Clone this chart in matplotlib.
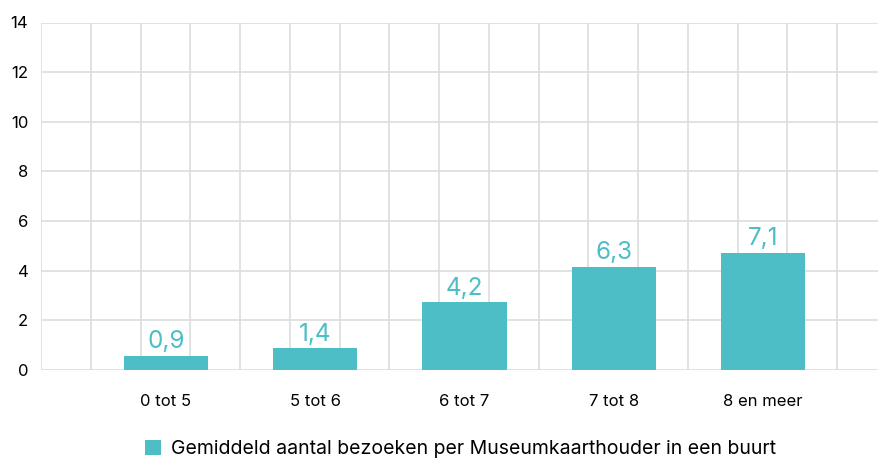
import matplotlib
matplotlib.use("Agg")
import matplotlib.pyplot as plt
import numpy as np

categories = ["0 tot 5", "5 tot 6", "6 tot 7", "7 tot 8", "8 en meer"]
bar_heights = [0.56, 0.88, 2.73, 4.15, 4.72]
value_labels = ["0,9", "1,4", "4,2", "6,3", "7,1"]
legend_label = "Gemiddeld aantal bezoeken per Museumkaarthouder in een buurt"
y_ticks = [0, 2, 4, 6, 8, 10, 12, 14]

teal = "#4DBDC6"
grid_c = "#DDDDDD"
plt.rcParams['font.family'] = ['Inter', 'DejaVu Sans']

fig = plt.figure(figsize=(8.79, 4.59), dpi=100)
ax = fig.add_axes([41/879, 89/459, 1 - 41/879, (370-22.5)/459])

x = np.arange(len(categories))
xmin, xmax = -0.8375, 4.777
ax.set_xlim(xmin, xmax)
ax.set_ylim(0, 14)

bars = ax.bar(x, bar_heights, width=0.563, color=teal, zorder=3, label=legend_label)
for xi, h, lab in zip(x, bar_heights, value_labels):
    ax.annotate(lab, (xi, h), xytext=(0, 5.5), textcoords="offset points",
                ha="center", va="baseline", color=teal, fontsize=17.5, zorder=4)

# grid
for gx in np.arange(xmin, xmax + 0.01, 1/3):
    ax.axvline(gx, color=grid_c, lw=1.2, zorder=1)
for gy in y_ticks:
    ax.axhline(gy, color=grid_c, lw=1.2, zorder=1)

for s in ax.spines.values():
    s.set_visible(False)

ax.set_yticks(y_ticks)
ax.set_yticklabels([str(t) for t in y_ticks], fontsize=12, color="#000000")
ax.set_xticks(x)
ax.set_xticklabels(categories, fontsize=12, color="#000000")
ax.tick_params(axis='both', length=0)
ax.tick_params(axis='x', pad=17)
ax.tick_params(axis='y', pad=9)
for t in ax.get_yticklabels():
    t.set_horizontalalignment('right')

leg = fig.legend(handles=[bars], labels=[legend_label], loc='center',
                 bbox_to_anchor=(0.524, 1 - 449/459), frameon=False,
                 fontsize=14, handlelength=0.8, handleheight=0.8, handletextpad=0.5)

fig.savefig("out.png", dpi=100, facecolor="white")
